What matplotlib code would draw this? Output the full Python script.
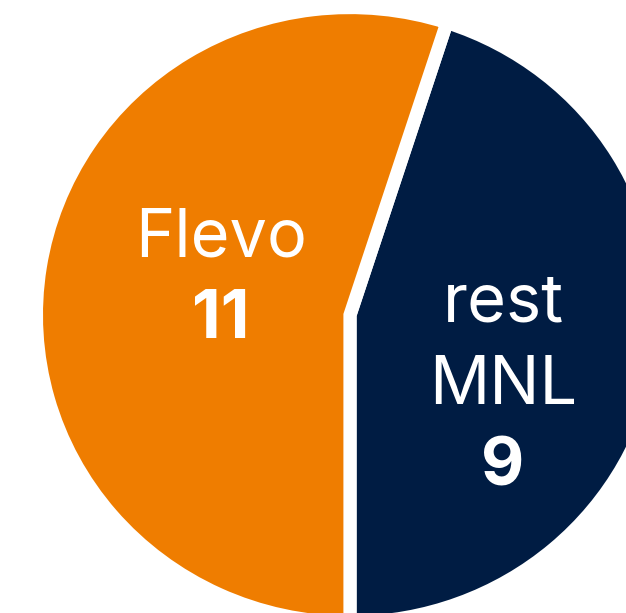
import matplotlib.pyplot as plt

# data
labels = ["rest\nMNL", "Flevo"]
values = [9, 11]
colors = ["#001C43", "#EF7D00"]

W, H = 626, 613
fig = plt.figure(figsize=(W / 100, H / 100), dpi=100)
ax = fig.add_axes([0, 0, 1, 1])

# the reference pie is a touch squashed vertically
sy = 307 / 301


def py(y_from_top):
    return (H - y_from_top) * sy


cx, cy = 350, py(315)
ax.pie(values, colors=colors, startangle=270, counterclock=True,
       center=(cx, cy), radius=313.6,
       wedgeprops=dict(edgecolor="white", linewidth=9.5, joinstyle="miter"))
ax.set_aspect("auto")
ax.set_xlim(0, W)
ax.set_ylim(0, H * sy)
ax.axis("off")

font = "Inter"
line_gap = 82

# label block positions (x centre, baseline of first line, from top)
label_pos = {"Flevo": (221, 256), "rest\nMNL": (503, 322)}
for lab, val in zip(labels, values):
    x, base = label_pos[lab]
    lines = lab.split("\n")
    for i, ln in enumerate(lines):
        ax.text(x, py(base + i * line_gap), ln, ha="center", va="baseline",
                fontsize=48, color="white", family=font)
    ax.text(x, py(base + len(lines) * line_gap), str(val), ha="center",
            va="baseline", fontsize=48, color="white", family=font,
            fontweight="bold")

fig.savefig("out.png", dpi=100)
